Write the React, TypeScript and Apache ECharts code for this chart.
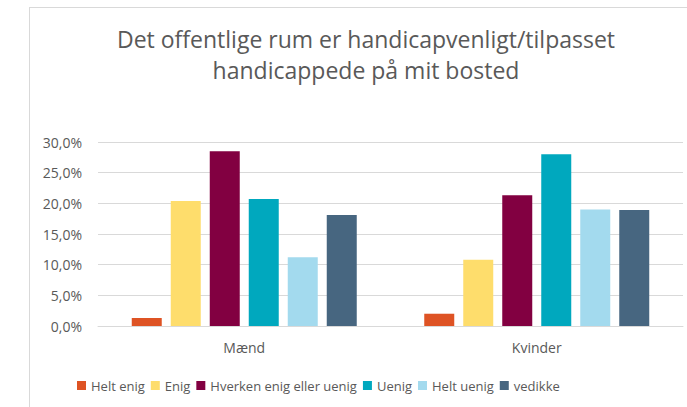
import React, { useEffect, useRef } from "react";
import * as echarts from "echarts";

const categories = ["Mænd", "Kvinder"];
const seriesNames = ["Helt enig", "Enig", "Hverken enig eller uenig", "Uenig", "Helt uenig", "vedikke"];
const seriesColors = ["#DE5324", "#FEDD6C", "#820041", "#00A8BE", "#A3DAEE", "#476680"];
const heltEnig = [1.3, 2.0];
const enig = [20.4, 10.8];
const hverken = [28.5, 21.3];
const uenig = [20.7, 28.0];
const heltUenig = [11.2, 19.0];
const vedIkke = [18.1, 18.9];
const seriesValues = [heltEnig, enig, hverken, uenig, heltUenig, vedIkke];
const titleLines = ["Det offentlige rum er handicapvenligt/tilpasset", "handicappede på mit bosted"];

const FONT = "'Open Sans', sans-serif";
const GREY = "#595959";

export default function App() {
  const ref = useRef<HTMLDivElement>(null);
  useEffect(() => {
    if (!ref.current) return;
    const chart = echarts.init(ref.current, null, { renderer: "svg" });
    chart.setOption({
      animation: false,
      backgroundColor: "#ffffff",
      title: {
        text: titleLines.join("\n"),
        left: 361,
        top: 18,
        textAlign: "center",
        textStyle: { fontFamily: FONT, fontSize: 23, fontWeight: "normal", color: GREY, lineHeight: 31 },
      },
      graphic: [
        { type: "line", shape: { x1: 29.5, y1: 7, x2: 29.5, y2: 407 }, style: { stroke: "#d9d9d9", lineWidth: 1 } },
        { type: "line", shape: { x1: 29, y1: 7.5, x2: 687, y2: 7.5 }, style: { stroke: "#d9d9d9", lineWidth: 1 } },
      ],
      legend: {
        left: 72,
        top: 374,
        itemWidth: 9,
        itemHeight: 9,
        itemGap: 6,
        icon: "rect",
        textStyle: { fontFamily: FONT, fontSize: 13, color: GREY },
        data: seriesNames,
      },
      grid: { left: 98, right: 4, top: 142, bottom: 81, containLabel: false },
      xAxis: {
        type: "category",
        data: categories,
        axisTick: { show: false },
        axisLine: { lineStyle: { color: "#d9d9d9" } },
        axisLabel: { fontFamily: FONT, fontSize: 14, color: GREY, margin: 14 },
      },
      yAxis: {
        type: "value",
        min: 0,
        max: 30,
        interval: 5,
        axisLine: { show: false },
        axisTick: { show: false },
        splitLine: { lineStyle: { color: "#d9d9d9" } },
        axisLabel: {
          fontFamily: FONT,
          fontSize: 14,
          color: GREY,
          margin: 16,
          formatter: (v: number) => v.toFixed(1).replace(".", ",") + "%",
        },
      },
      series: seriesNames.map((name, i) => ({
        name,
        type: "bar",
        data: seriesValues[i],
        barWidth: 30,
        barGap: "30%",
        itemStyle: { color: seriesColors[i] },
      })),
    });
    return () => chart.dispose();
  }, []);
  return <div ref={ref} style={{ width: 687, height: 407, position: "absolute", left: 0, top: 0 }} />;
}
